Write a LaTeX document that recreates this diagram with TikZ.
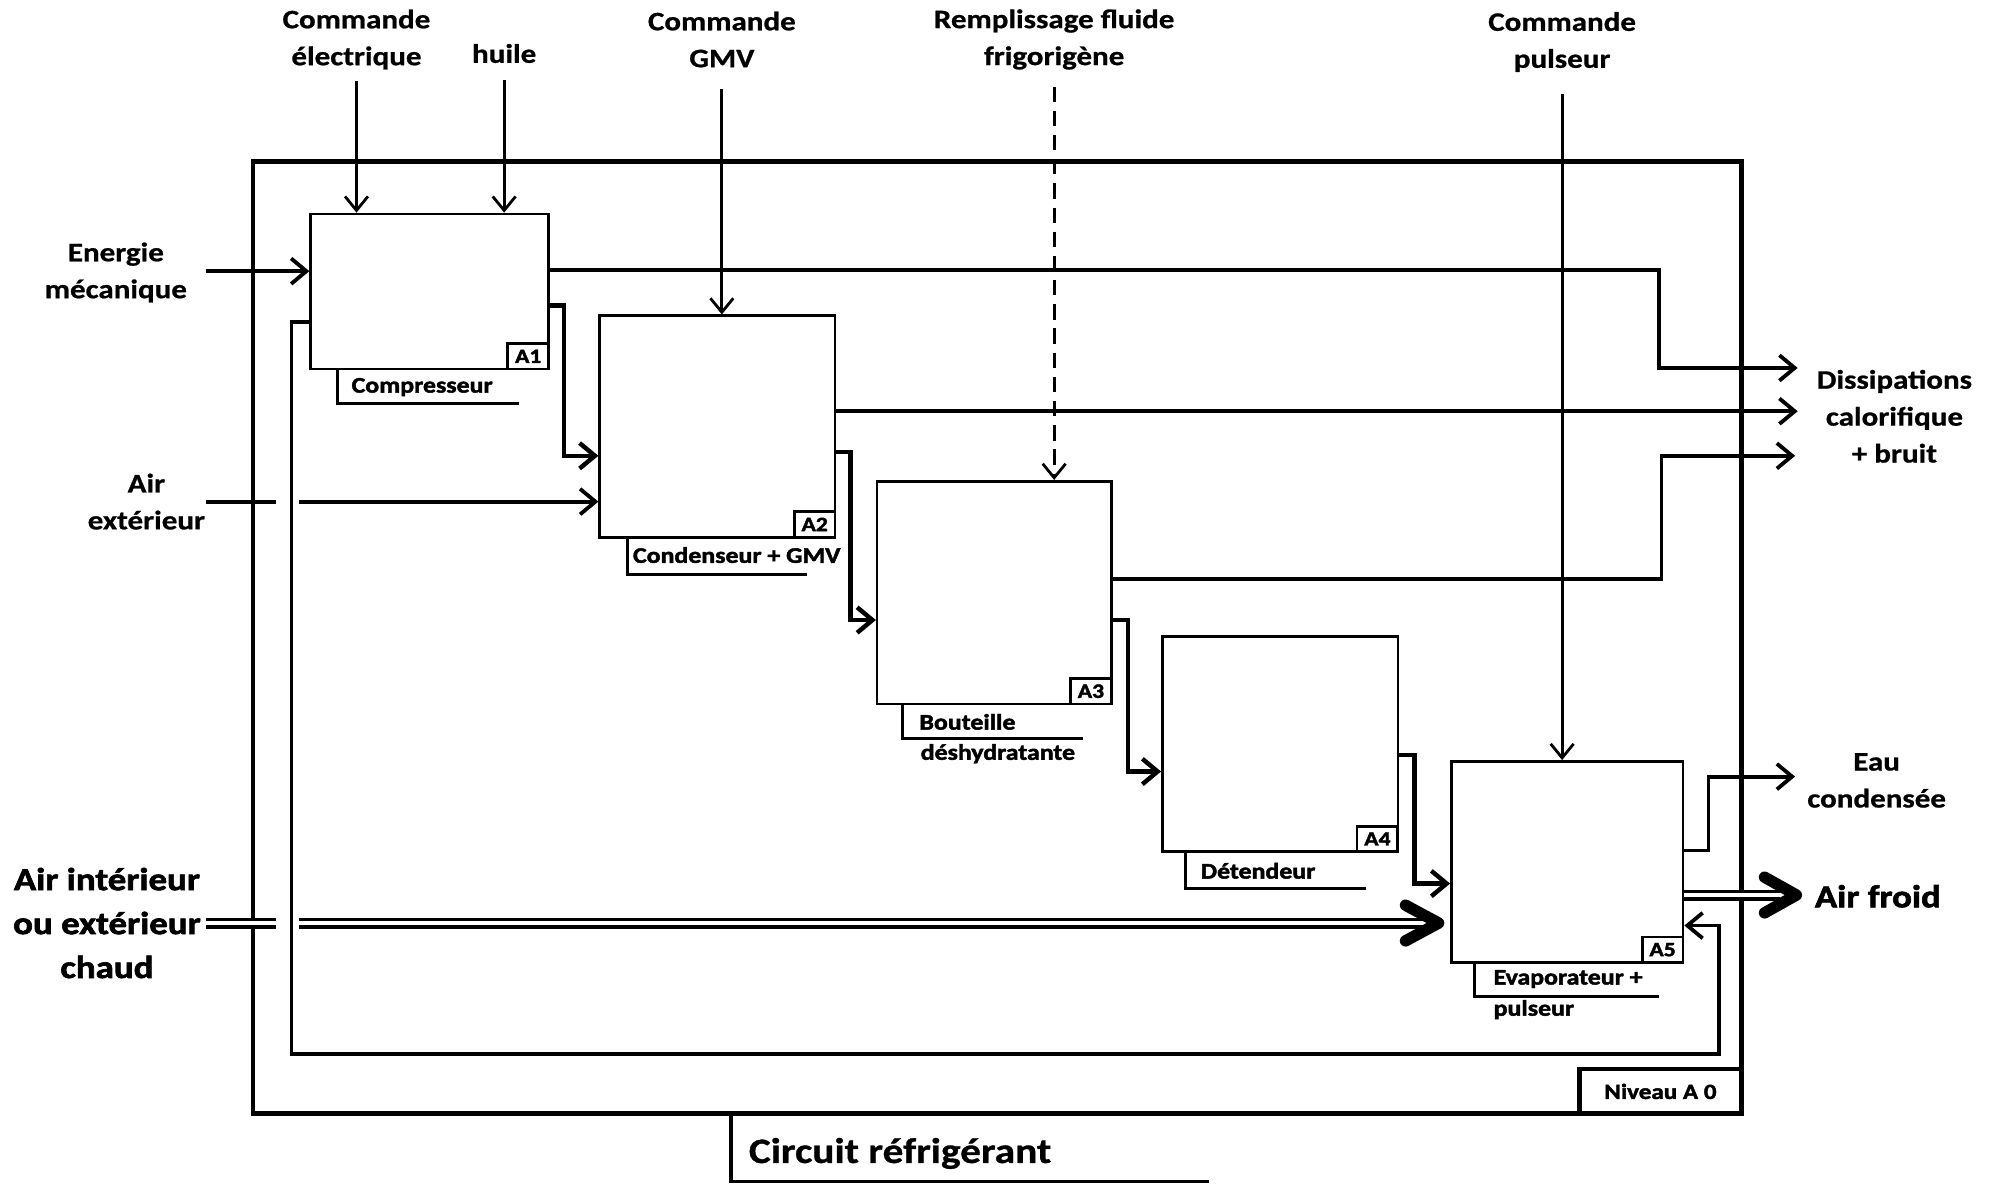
\documentclass[tikz,border=0pt]{standalone}
\usepackage{fontspec}
\setmainfont{Carlito}[FakeStretch=1.16, BoldFeatures={FakeBold=0.8}]
\newfontfamily\heavy{Carlito}[FakeStretch=1.16, BoldFeatures={FakeBold=2}]
\usetikzlibrary{arrows.meta}
\begin{document}
\begin{tikzpicture}[x=1pt,y=-1pt,
  box/.style={draw, line width=2pt, anchor=north west, inner sep=0pt},
  numbox/.style={draw, line width=2.2pt, anchor=south east, minimum width=32pt, minimum height=20pt, inner sep=0pt, font=\heavy\bfseries\fontsize{16}{16}\selectfont},
  lbl/.style={font=\bfseries\fontsize{21}{29}\selectfont, align=center, inner sep=0pt},
  boxlbl/.style={font=\heavy\bfseries\fontsize{17.5}{24}\selectfont, anchor=west, inner sep=0pt},
  biglbl/.style={font=\heavy\bfseries\fontsize{25}{34.5}\selectfont, align=center, inner sep=0pt},
  ctrl/.style={line width=2.2pt, -{Straight Barb[length=11pt,width=18pt]}},
  flow/.style={line width=3pt},
  flowa/.style={line width=3pt, -{Straight Barb[length=12pt,width=20pt]}},
  chainf/.style={line width=3.5pt, -{Straight Barb[length=12pt,width=20pt]}},
  dbl/.style={line width=2.8pt, double distance=3pt},
  chev/.style={line width=9pt, line cap=round, line join=round},
  brk/.style={line width=2.2pt}
]
\useasboundingbox (0,0) rectangle (1567,930);

% outer frame
\node[draw, line width=3.5pt, anchor=north west, minimum width=1169pt, minimum height=748pt, inner sep=0pt] (frame) at (197,125) {};
\node[draw, line width=3.5pt, anchor=south east, minimum width=127pt, minimum height=35pt, inner sep=0pt, font=\heavy\bfseries\fontsize{17}{17}\selectfont] (niv) at (frame.south east) {Niveau A 0};
\draw[line width=3pt] (frame.south -| 574,0) |- (950,928);
\node[anchor=west, inner sep=0pt, font=\bfseries\fontsize{28}{28}\selectfont] (circ) at (588,906) {Circuit réfrigérant};

% boxes
\node[box, minimum width=187pt, minimum height=122pt] (A1) at (243,167) {};
\node[box, minimum width=185pt, minimum height=174pt] (A2) at (470,247) {};
\node[box, minimum width=184pt, minimum height=175pt] (A3) at (688,377) {};
\node[box, minimum width=185pt, minimum height=169pt] (A4) at (912,499) {};
\node[box, minimum width=182pt, minimum height=158pt] (A5) at (1139,597) {};

\node[numbox] (n1) at (A1.south east) {A1};
\node[numbox] (n2) at (A2.south east) {A2};
\node[numbox] (n3) at (A3.south east) {A3};
\node[numbox] (n4) at (A4.south east) {A4};
\node[numbox] (n5) at (A5.south east) {A5};

% box labels
\draw[brk] (A1.south -| 265,0) |- (408,317);
\node[boxlbl] (l1) at (276,304) {Compresseur};
\draw[brk] (A2.south -| 493,0) |- (634,451);
\node[boxlbl] (l2) at (497,436) {Condenseur + GMV};
\draw[brk] (A3.south -| 709,0) |- (851,580);
\node[boxlbl] (l3a) at (722,567) {Bouteille};
\node[boxlbl] (l3b) at (723,592) {déshydratante};
\draw[brk] (A4.south -| 931,0) |- (1073,698);
\node[boxlbl] (l4) at (943,684) {Détendeur};
\draw[brk] (A5.south -| 1158,0) |- (1303,783);
\node[boxlbl] (l5a) at (1173,769) {Evaporateur +};
\node[boxlbl] (l5b) at (1173,793) {pulseur};

% top labels and control arrows
\node[lbl] (t1) at (280,31) {Commande\\électrique};
\node[lbl] (t2) at (396,42) {huile};
\node[lbl] (t3) at (567,31) {Commande\\GMV};
\node[lbl] (t4) at (828,31) {Remplissage fluide\\frigorigène};
\node[lbl] (t5) at (1227,33) {Commande\\pulseur};
\coordinate (c1) at (280,64);
\coordinate (c2) at (396,63);
\coordinate (c3) at (567,70);
\coordinate (c4) at (828,68);
\coordinate (c5) at (1227,74);
\draw[ctrl] (c1) -- (c1 |- A1.north);
\draw[ctrl] (c2) -- (c2 |- A1.north);
\draw[ctrl] (c3) -- (c3 |- A2.north);
\draw[ctrl, dash pattern=on 12pt off 7pt] (c4) -- (c4 |- A3.north);
\draw[ctrl] (c5) -- (c5 |- A5.north);

% left labels and inputs
\node[lbl] (in1) at (91,214) {Energie\\mécanique};
\node[lbl] (in2) at (115,394) {Air\\extérieur};
\node[biglbl] (in3) at (84,725) {Air intérieur\\ou extérieur\\chaud};
\coordinate (e1) at (162,213);
\draw[flowa] (e1) -- (e1 -| A1.west);
\coordinate (e2) at (162,394);
\coordinate (e2b) at (217,394);
\coordinate (e2c) at (235,394);
\draw[flow] (e2) -- (e2b);
\draw[flowa] (e2c) -- (e2c -| A2.west);
\coordinate (e3) at (162,725);
\coordinate (e3b) at (217,725);
\coordinate (e3c) at (235,725);
\coordinate (e3d) at (1120,725);
\draw[dbl] (e3) -- (e3b);
\draw[dbl] (e3c) -- (e3d);
\draw[chev] (1104,711) -- (1130,725) -- (1104,739);

% chain between boxes
\draw[chainf] (A1.east |- 0,240) -- (443,240) -- (443,358) -- (A2.west |- 0,358);
\draw[chainf] (A2.east |- 0,355) -- (668,355) -- (668,487) -- (A3.west |- 0,487);
\draw[chainf] (A3.east |- 0,487) -- (886,487) -- (886,606) -- (A4.west |- 0,606);
\draw[chainf] (A4.east |- 0,593) -- (1111,593) -- (1111,694) -- (A5.west |- 0,694);

% feedback loop
\draw[flowa] (A1.west |- 0,253) -- (229,253) -- (229,828) -- (1350,828) -- (1350,727) -- (A5.east |- 0,727);

% outputs: dissipations
\coordinate (d1) at (1412,289);
\coordinate (d2) at (1412,323);
\coordinate (d3) at (1410,358);
\draw[flowa] (A1.east |- 0,212) -- (1303,212) -- (1303,289) -- (d1);
\draw[flowa] (A2.east |- 0,323) -- (d2);
\draw[flowa] (A3.east |- 0,455) -- (1305,455) -- (1305,358) -- (d3);
\node[lbl] (out1) at (1488,327) {Dissipations\\calorifique\\+ bruit};

% eau condensee
\coordinate (d4) at (1410,610);
\draw[flowa] (A5.east |- 0,668) -- (1342,668) -- (1342,610) -- (d4);
\node[lbl] (out2) at (1474,613) {Eau\\condensée};

% air froid
\coordinate (d5) at (1398,703);
\draw[dbl] (A5.east |- 0,703) -- (d5);
\draw[chev] (1386,689) -- (1411,703) -- (1386,717);
\node[biglbl] (out3) at (1475,704) {Air froid};
\end{tikzpicture}
\end{document}
